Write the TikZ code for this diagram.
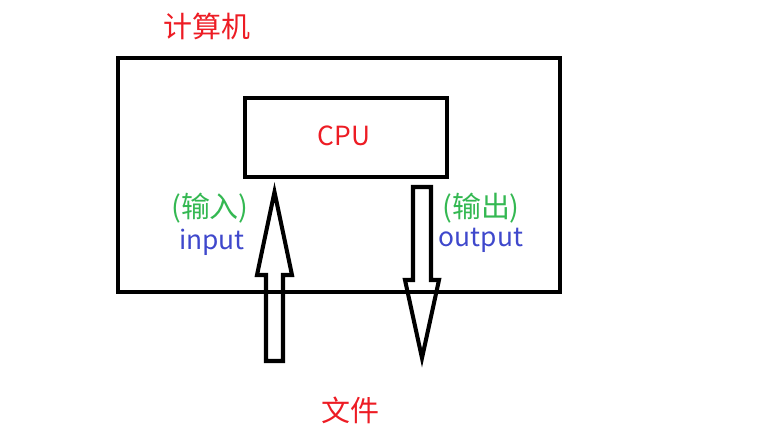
\documentclass[tikz,border=0pt]{standalone}
\usepackage{fontspec}
\setmainfont{Noto Sans CJK SC}
\usetikzlibrary{positioning}
\definecolor{paintred}{RGB}{237,28,36}
\definecolor{paintgreen}{RGB}{52,184,82}
\definecolor{paintblue}{RGB}{63,72,204}

\begin{document}
\begin{tikzpicture}[x=0.02cm,y=-0.02cm,line width=2.3pt,
    font=\fontsize{16.5}{18}\selectfont,
    box/.style={draw,inner sep=0pt},
    word/.style={font=\fontsize{15}{17}\selectfont},
    blockarrow/.style={draw,line width=2.3pt,line join=miter}]
  \useasboundingbox (0,0) rectangle (779,434);

  % the computer and its CPU
  \node[box,minimum width=8.84cm,minimum height=4.68cm] (pc) at (339,175) {};
  \node[box,minimum width=4.04cm,minimum height=1.58cm] (cpu) at (346,137.5) {};
  \node[paintred,word] (cputxt) at (344,136) {CPU};
  \node[paintred] (pctxt) at (207,26) {计算机};

  % input arrow, pointing up to the CPU
  \draw[blockarrow] (266,361) -- (266,275) -- (257,275) -- (274.5,192)
     -- (292,275) -- (283,275) -- (283,361) -- cycle;
  % output arrow, pointing down from the CPU
  \draw[blockarrow] (413,187) -- (413,280) -- (405,280) -- (422,358)
     -- (439,280) -- (431,280) -- (431,187) -- cycle;

  \node[paintgreen] (intxt) at (210,208) {(输入)};
  \node[paintblue,word] (inword) at (212,242) {input};
  \node[paintgreen] (outtxt) at (481,208) {(输出)};
  \node[paintblue,word] (outword) at (481,240) {output};
  \node[paintred] (file) at (350,410) {文件};
\end{tikzpicture}
\end{document}
